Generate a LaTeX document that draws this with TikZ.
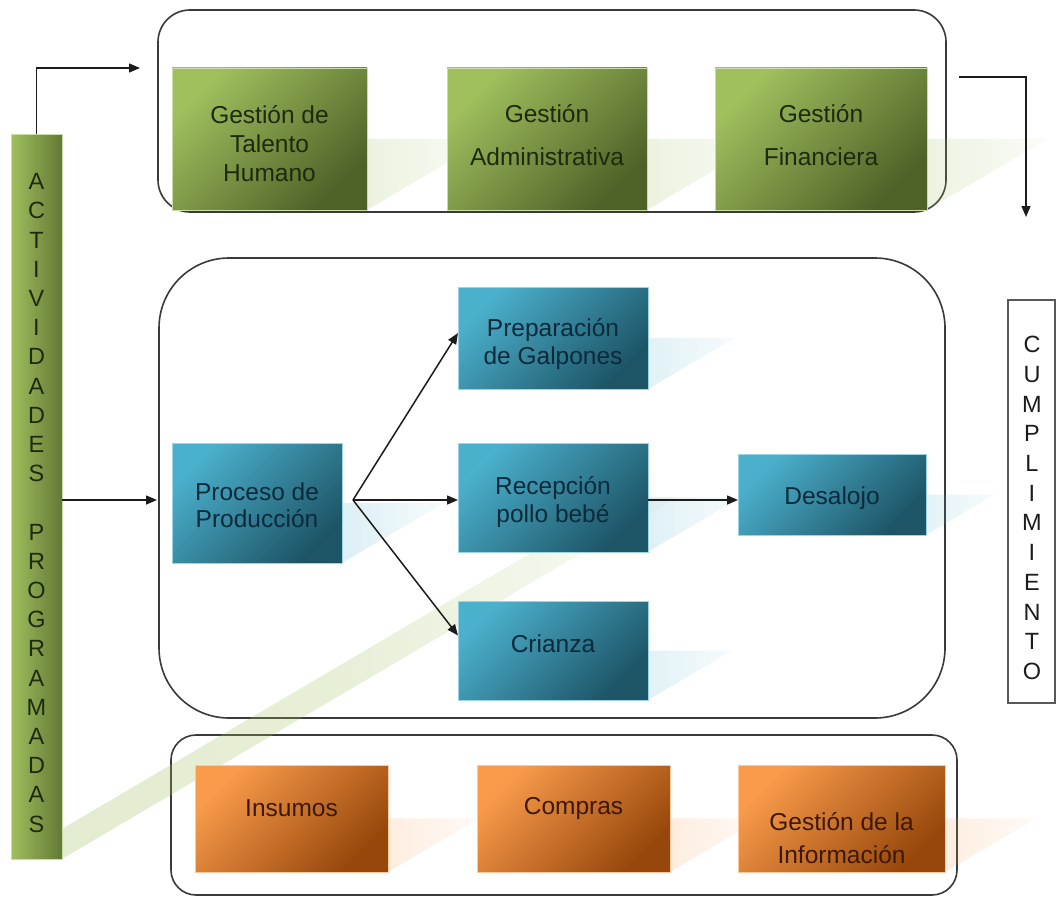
\documentclass[tikz,border=0pt]{standalone}
\usepackage{fontspec}
\setmainfont{Liberation Sans}
\usetikzlibrary{arrows.meta,fit,fadings,calc}

\pgfdeclarelayer{back}
\pgfdeclarelayer{shade}
\pgfsetlayers{back,shade,main}

\definecolor{grnA}{HTML}{A0C05E}
\definecolor{grnB}{HTML}{4E6127}
\definecolor{grnT}{HTML}{1D2B0D}
\definecolor{bluA}{HTML}{4BB0CC}
\definecolor{bluB}{HTML}{1D5466}
\definecolor{bluT}{HTML}{0B2A3B}
\definecolor{orgA}{HTML}{F99B4B}
\definecolor{orgB}{HTML}{97470B}
\definecolor{orgT}{HTML}{3C1904}
\definecolor{frame}{HTML}{3A3A3A}
\definecolor{ink}{HTML}{1C1C1C}

\tikzfading[name=shadowfade, left color=transparent!0, right color=transparent!85, middle color=transparent!20]

% floor shadow of a box: its lower half sheared to the right
\newcommand\floorshade[2]{%
  \path[fill=#2, fill opacity=0.3, path fading=shadowfade]
    let \p1=(#1.north), \p2=(#1.south), \n1={0.85*(\y1-\y2)} in
    (#1.south west) -- (#1.south east) -- ([xshift=\n1]#1.east)
    -- ([xshift=\n1]#1.west) -- cycle;}

\begin{document}
\begin{tikzpicture}[x=1pt,y=-1pt,
  card/.style={rectangle, inner sep=0pt, outer sep=0pt, line width=0.7pt},
  gcard/.style={card, top color=grnA, bottom color=grnB, shading angle=45, draw=grnA!55!white},
  bcard/.style={card, top color=bluA, bottom color=bluB, shading angle=45, draw=bluA!55!white},
  ocard/.style={card, top color=orgA, bottom color=orgB, shading angle=45, draw=orgA!55!white},
  gbar/.style={card, left color=grnA, right color=grnB!75!grnA, draw=grnA!55!white},
  panel/.style={rectangle, inner sep=0pt, outer sep=0pt, draw=frame, line width=1.6pt, fill=white},
  lbl/.style={align=center, inner sep=0pt, font=\fontsize{24.5}{#1}\selectfont},
  lbl/.default=29,
  gtxt/.style={lbl=#1, text=grnT}, gtxt/.default=29,
  btxt/.style={lbl=#1, text=bluT}, btxt/.default=29,
  otxt/.style={lbl=#1, text=orgT}, otxt/.default=29,
  vtxt/.style={align=center, inner sep=0pt, font=\fontsize{23.5}{#1}\selectfont},
  link/.style={draw=ink, line width=1.5pt, -{Triangle[length=11pt,width=9pt]}},
]
\useasboundingbox (0,0) rectangle (1057,899);

\begin{pgfonlayer}{back}
  \fill[white] (0,0) rectangle (1057,899);
  \node[panel, rounded corners=32pt, fit={(158,10) (946,212)}] (toppanel) {};
  \node[panel, rounded corners=70pt, fit={(159,258) (945,718)}] (midpanel) {};
  \node[panel, rounded corners=25pt, fit={(171,735) (957,895)}] (botpanel) {};
\end{pgfonlayer}

% boxes
\node[gcard, fit={(172,68) (367,210)}] (talento) {};
\node[gcard, fit={(447,68) (647,210)}] (admin) {};
\node[gcard, fit={(715,68) (927,210)}] (finan) {};
\node[gbar, fit={(11,134) (62,859)}] (bar) {};
\node[bcard, fit={(172,443) (342,563)}] (proc) {};
\node[bcard, fit={(458,287) (648,389)}] (prep) {};
\node[bcard, fit={(458,443) (648,552)}] (recep) {};
\node[bcard, fit={(458,601) (648,700)}] (crianza) {};
\node[bcard, fit={(738,454) (926,535)}] (desal) {};
\node[ocard, fit={(195,765) (388,872)}] (insumos) {};
\node[ocard, fit={(477,765) (670,872)}] (compras) {};
\node[ocard, fit={(738,765) (945,872)}] (info) {};
\node[rectangle, inner sep=0pt, draw=frame!85, line width=1.3pt, fill=white,
      fit={(1008,300) (1055,703)}] (cumpl) {};

% floor shadows
\begin{pgfonlayer}{shade}
  \floorshade{talento}{grnA}
  \floorshade{admin}{grnA}
  \floorshade{finan}{grnA}
  \floorshade{bar}{grnA}
  \floorshade{proc}{bluA}
  \floorshade{prep}{bluA}
  \floorshade{recep}{bluA}
  \floorshade{crianza}{bluA}
  \floorshade{desal}{bluA}
  \floorshade{insumos}{orgA}
  \floorshade{compras}{orgA}
  \floorshade{info}{orgA}
\end{pgfonlayer}

% labels
\node[gtxt] (talento-t) at (269.5,144) {Gestión de\\Talento\\Humano};
\node[gtxt=43] (admin-t) at (547,135) {Gestión\\Administrativa};
\node[gtxt=43] (finan-t) at (821,135) {Gestión\\Financiera};
\node[btxt=27] (proc-t) at (257,505) {Proceso de\\Producción};
\node[btxt=28] (prep-t) at (553,344) {Preparación\\de Galpones};
\node[btxt=28] (recep-t) at (553,502) {Recepción\\pollo bebé};
\node[btxt] (crianza-t) at (553,644) {Crianza};
\node[btxt] (desal-t) at (832,498) {Desalojo};
\node[otxt] (insumos-t) at (291.5,808) {Insumos};
\node[otxt] (compras-t) at (573.5,808) {Compras};
\node[otxt=33] (info-t) at (841.5,838) {Gestión de la\\Información};

\node[vtxt=29.2, text=grnT] (bar-t) at (36.5,503)
  {A\\C\\T\\I\\V\\I\\D\\A\\D\\E\\S\\[29.2pt]P\\R\\O\\G\\R\\A\\M\\A\\D\\A\\S};
\node[vtxt=29.7, text=ink] (cumpl-t) at (1032,508)
  {C\\U\\M\\P\\L\\I\\M\\I\\E\\N\\T\\O};

% connectors
\coordinate (topin) at (140,68);
\coordinate (finout) at (959,77);
\coordinate (finend) at (1026,217);
\coordinate (procin) at (157,500);
\coordinate (fork) at (353,500);
\draw[link] (bar.north) |- (topin);
\draw[link] (finout) -| (finend);
\draw[link] (bar.east |- procin) -- (procin);
\draw[link] (fork) -- ([yshift=5pt]prep.west);
\draw[link] (fork) -- (recep.west |- fork);
\draw[link] (fork) -- ([yshift=15pt]crianza.west);
\coordinate (rd) at ([yshift=-2.5pt]recep.east);
\draw[link] (rd) -- (rd -| desal.west);
\end{tikzpicture}
\end{document}
